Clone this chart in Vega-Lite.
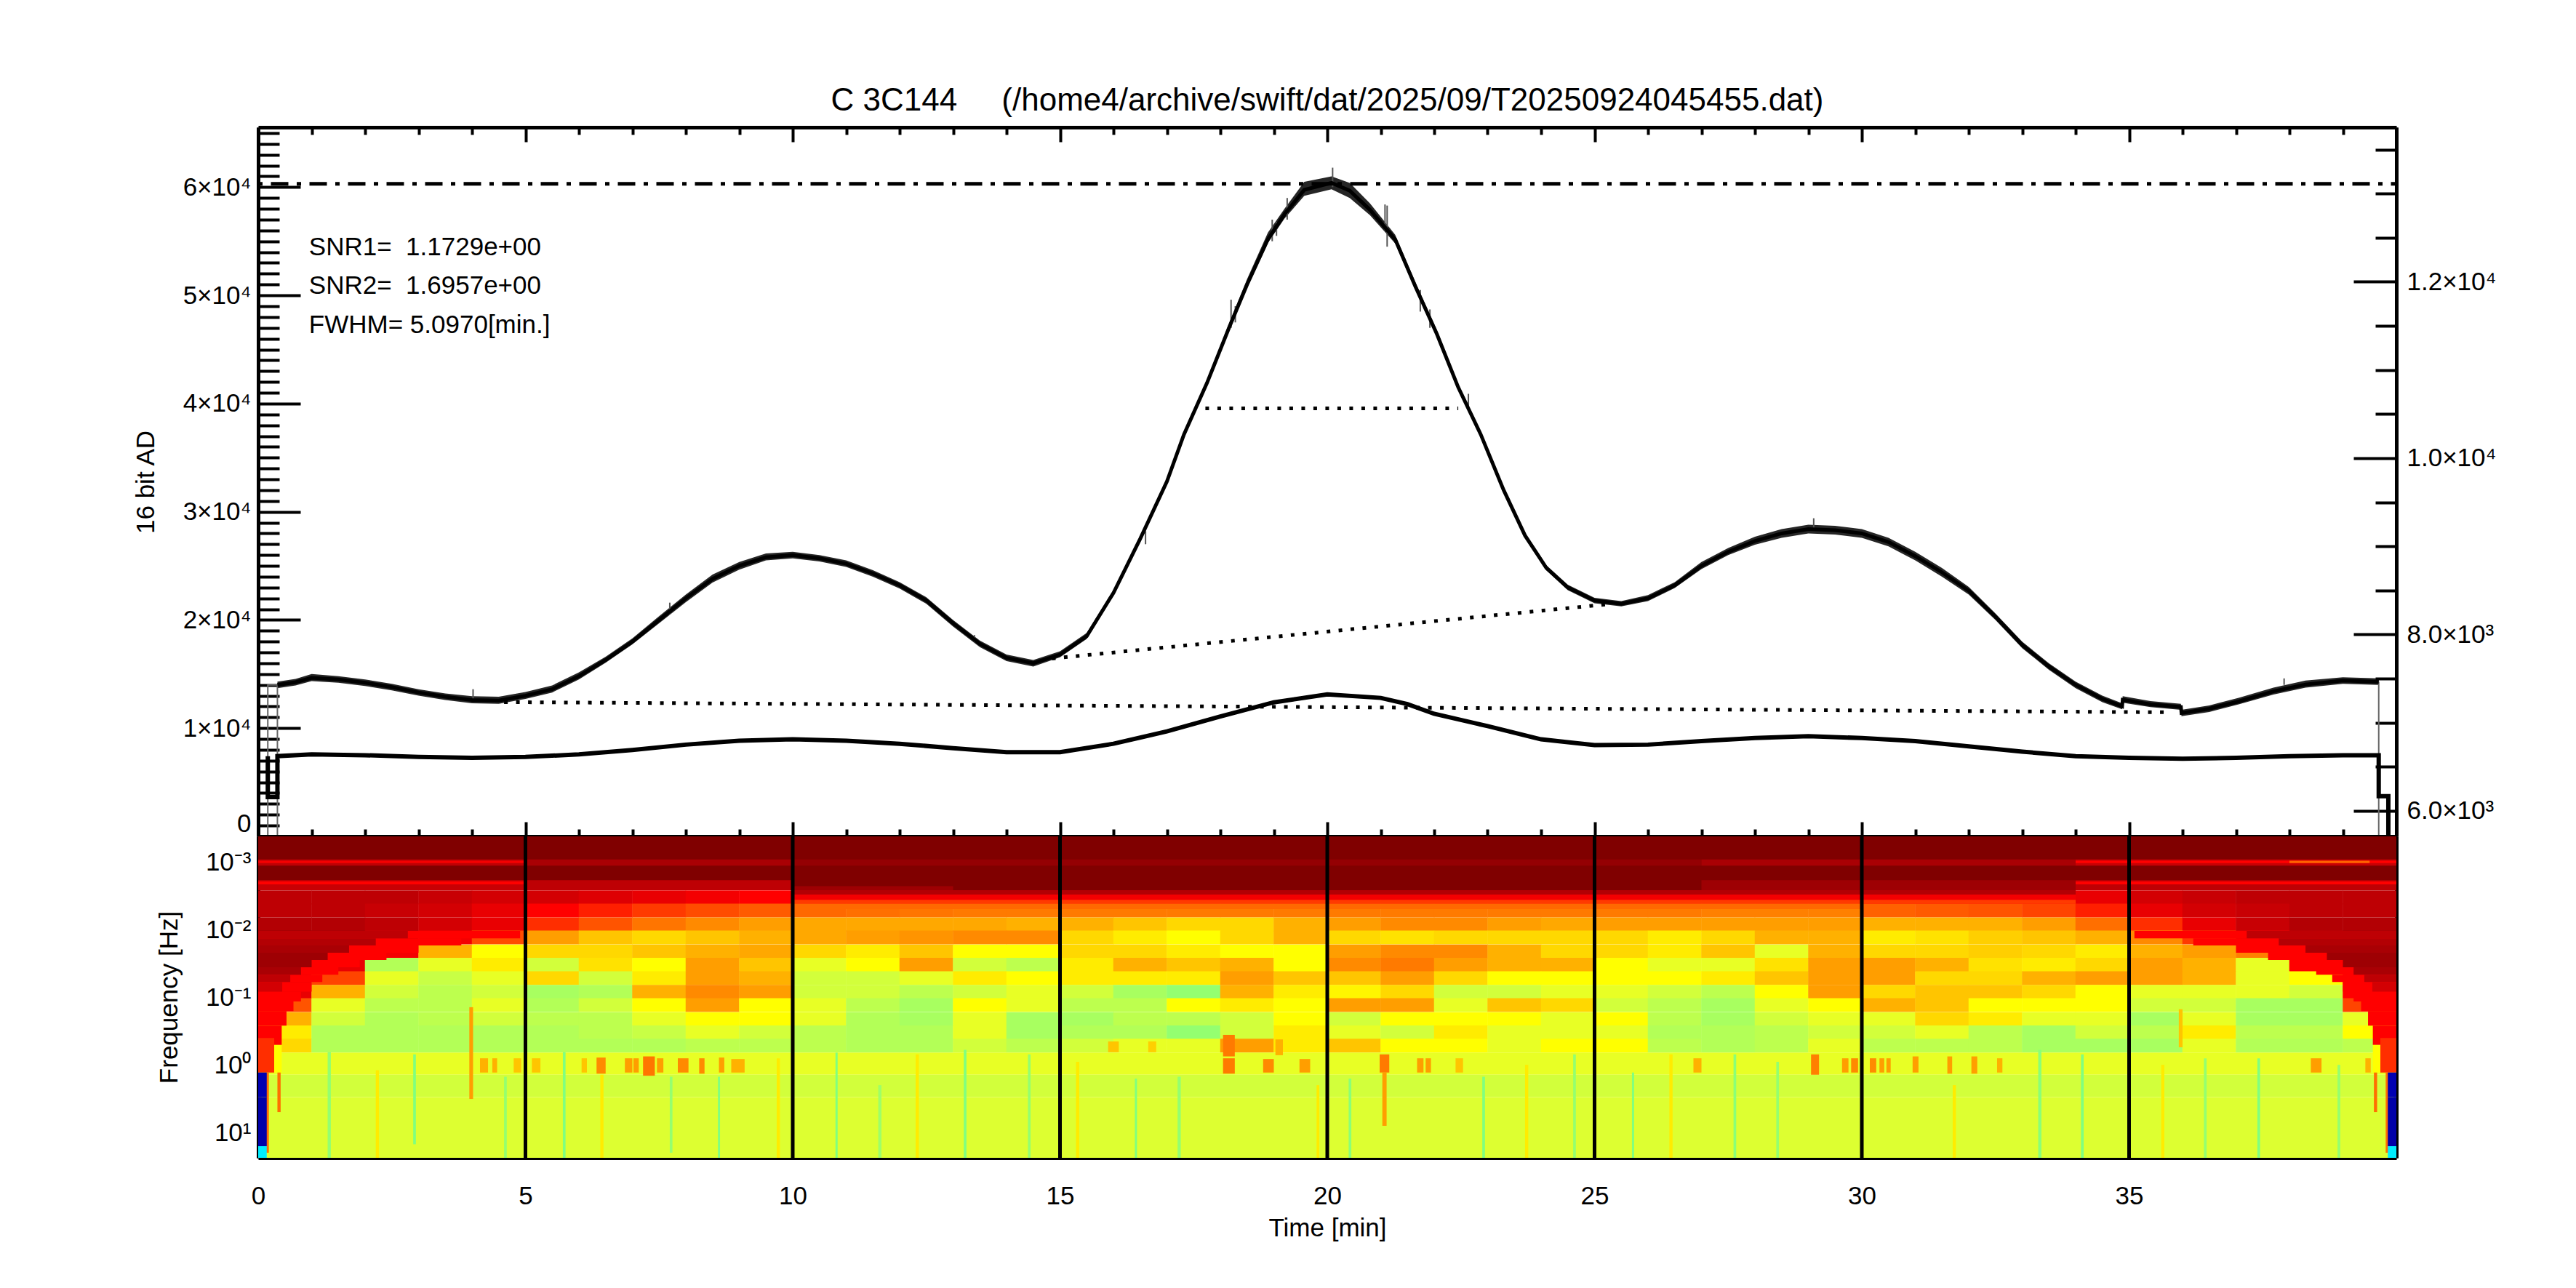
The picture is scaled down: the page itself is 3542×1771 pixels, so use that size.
{"$schema":"https://vega.github.io/schema/vega-lite/v6.json","background":"white","padding":{"left":183,"top":116,"right":20,"bottom":20},"spacing":0,"bounds":"flush","config":{"font":"Liberation Sans","view":{"stroke":null},"axis":{"grid":false,"domainWidth":5,"domainColor":"#000","tickColor":"#000","tickWidth":4,"labelFont":"Liberation Sans","labelFontSize":35,"labelColor":"#000","titleFont":"Liberation Sans","titleFontSize":35,"titleFontWeight":"normal","titleColor":"#000","labelOverlap":false,"labelBound":false,"labelFlush":false,"zindex":1},"title":{"font":"Liberation Sans","fontWeight":"normal","color":"#000"}},"vconcat":[{"width":2940,"height":975,"title":{"text":"C 3C144\u00a0\u00a0\u00a0\u00a0\u00a0(/home4/archive/swift/dat/2025/09/T20250924045455.dat)","fontSize":44,"anchor":"middle","frame":"group","offset":5},"resolve":{"scale":{"y":"independent"},"axis":{"x":"independent","y":"independent"}},"encoding":{"x":{"field":"t","type":"quantitative","scale":{"domain":[0,40],"nice":false},"axis":null}},"layer":[{"data":{"name":"main"},"mark":{"type":"area","color":"#000","opacity":0.85},"encoding":{"y":{"field":"lo","type":"quantitative","scale":{"domain":[0,65535],"nice":false},"axis":null},"y2":{"field":"hi"}}},{"data":{"values":[{"t":4.02,"lo":12500,"hi":13600},{"t":18.2,"lo":47000,"hi":49600},{"t":18.28,"lo":47500,"hi":49000},{"t":18.97,"lo":55000,"hi":57000},{"t":19.05,"lo":55500,"hi":56800},{"t":19.25,"lo":57000,"hi":59000},{"t":20.1,"lo":60000,"hi":61800},{"t":21.08,"lo":56000,"hi":58400},{"t":21.12,"lo":54500,"hi":58300},{"t":21.74,"lo":48500,"hi":50500},{"t":21.92,"lo":47000,"hi":48700},{"t":22.64,"lo":39500,"hi":40900},{"t":29.1,"lo":28500,"hi":29400},{"t":16.6,"lo":27000,"hi":28200},{"t":7.7,"lo":20500,"hi":21600},{"t":13.4,"lo":17900,"hi":18600},{"t":37.9,"lo":14000,"hi":14600}]},"mark":{"type":"rule","color":"#555","strokeWidth":2},"encoding":{"y":{"field":"lo","type":"quantitative","scale":{"domain":[0,65535],"nice":false},"axis":null},"y2":{"field":"hi"}}},{"data":{"values":[{"s":"a","t":0.18,"y":0},{"s":"a","t":0.18,"y":14000},{"s":"a","t":0.36,"y":14000},{"s":"a","t":0.36,"y":0},{"s":"b","t":39.67,"y":14300},{"s":"b","t":39.67,"y":0}]},"mark":{"type":"line","color":"#666","strokeWidth":2},"encoding":{"detail":{"field":"s"},"y":{"field":"y","type":"quantitative","scale":{"domain":[0,65535],"nice":false},"axis":null}}},{"data":{"name":"main"},"mark":{"type":"line","color":"#000","strokeWidth":5},"encoding":{"x":{"field":"t","type":"quantitative","scale":{"domain":[0,40],"nice":false},"axis":{"orient":"top","values":[0,1,2,3,4,5,6,7,8,9,10,11,12,13,14,15,16,17,18,19,20,21,22,23,24,25,26,27,28,29,30,31,32,33,34,35,36,37,38,39,40],"labels":false,"title":null,"tickSize":{"condition":{"test":"datum.value%5==0","value":-20},"value":-10}}},"y":{"field":"y","type":"quantitative","scale":{"domain":[0,65535],"nice":false},"axis":{"orient":"left","title":"16 bit AD","titlePadding":33,"labelPadding":68,"labelBaseline":{"condition":{"test":"datum.value==0","value":"bottom"},"value":"middle"},"values":[0,1000,2000,3000,4000,5000,6000,7000,8000,9000,10000,11000,12000,13000,14000,15000,16000,17000,18000,19000,20000,21000,22000,23000,24000,25000,26000,27000,28000,29000,30000,31000,32000,33000,34000,35000,36000,37000,38000,39000,40000,41000,42000,43000,44000,45000,46000,47000,48000,49000,50000,51000,52000,53000,54000,55000,56000,57000,58000,59000,60000,61000,62000,63000,64000,65000],"labelExpr":"datum.value==0?'0':(datum.value%10000==0?(datum.value/10000)+'×10⁴':'')","tickSize":{"condition":{"test":"datum.value%10000==0","value":-58},"value":-29}}}}},{"data":{"values":[{"t":0.18,"y":6620},{"t":0.18,"y":6155},{"t":0.36,"y":6155},{"t":0.36,"y":6620},{"t":1,"y":6640},{"t":2,"y":6630},{"t":3,"y":6610},{"t":4,"y":6600},{"t":5,"y":6610},{"t":6,"y":6640},{"t":7,"y":6690},{"t":8,"y":6750},{"t":9,"y":6795},{"t":10,"y":6810},{"t":11,"y":6795},{"t":12,"y":6760},{"t":13,"y":6710},{"t":14,"y":6665},{"t":15,"y":6665},{"t":16,"y":6760},{"t":17,"y":6900},{"t":18,"y":7070},{"t":19,"y":7230},{"t":20,"y":7320},{"t":21,"y":7280},{"t":21.5,"y":7210},{"t":22,"y":7100},{"t":23,"y":6960},{"t":24,"y":6810},{"t":25,"y":6745},{"t":26,"y":6750},{"t":27,"y":6790},{"t":28,"y":6825},{"t":29,"y":6845},{"t":30,"y":6825},{"t":31,"y":6790},{"t":32,"y":6730},{"t":33,"y":6670},{"t":34,"y":6620},{"t":35,"y":6600},{"t":36,"y":6590},{"t":37,"y":6600},{"t":38,"y":6620},{"t":39,"y":6630},{"t":39.67,"y":6630},{"t":39.67,"y":6165},{"t":39.85,"y":6165},{"t":39.85,"y":5710}]},"mark":{"type":"line","color":"#000","strokeWidth":6},"encoding":{"order":{"field":"o"},"x":{"field":"t","type":"quantitative","scale":{"domain":[0,40],"nice":false},"axis":{"orient":"bottom","values":[0,1,2,3,4,5,6,7,8,9,10,11,12,13,14,15,16,17,18,19,20,21,22,23,24,25,26,27,28,29,30,31,32,33,34,35,36,37,38,39,40],"labels":false,"title":null,"tickSize":{"condition":{"test":"datum.value%5==0","value":-20},"value":-10}}},"y":{"field":"y","type":"quantitative","scale":{"domain":[5709.5,13753],"nice":false},"axis":{"orient":"right","title":null,"labelPadding":73,"values":[6000,6500,7000,7500,8000,8500,9000,9500,10000,10500,11000,11500,12000,12500,13000,13500],"labelExpr":"datum.value==6000?'6.0×10³':datum.value==8000?'8.0×10³':datum.value==10000?'1.0×10⁴':datum.value==12000?'1.2×10⁴':''","tickSize":{"condition":{"test":"datum.value%2000==0","value":-59},"value":-29}}}}},{"data":{"values":[{"s":"a","t":4.6,"y":12407},{"s":"a","t":35.8,"y":11466},{"s":"b","t":14.85,"y":16440},{"s":"b","t":25.3,"y":21480},{"s":"c","t":17.72,"y":39556},{"s":"c","t":22.45,"y":39556}]},"mark":{"type":"line","color":"#000","strokeWidth":5,"strokeDash":[5,11.5]},"encoding":{"detail":{"field":"s"},"y":{"field":"y","type":"quantitative","scale":{"domain":[0,65535],"nice":false},"axis":null}}},{"data":{"values":[{"t":0,"y":60310},{"t":40,"y":60310}]},"mark":{"type":"line","color":"#000","strokeWidth":5,"strokeDash":[6,11.5,24,11.5]},"encoding":{"y":{"field":"y","type":"quantitative","scale":{"domain":[0,65535],"nice":false},"axis":null}}},{"data":{"values":[{"t":0.95,"y":54440,"s":"SNR1=\u00a0\u00a01.1729e+00"},{"t":0.95,"y":50880,"s":"SNR2=\u00a0\u00a01.6957e+00"},{"t":0.95,"y":47250,"s":"FWHM= 5.0970[min.]"}]},"mark":{"type":"text","align":"left","baseline":"middle","fontSize":35,"color":"#000"},"encoding":{"text":{"field":"s"},"y":{"field":"y","type":"quantitative","scale":{"domain":[0,65535],"nice":false},"axis":null}}}]},{"width":2940,"height":442,"resolve":{"axis":{"x":"independent","y":"independent"}},"encoding":{"x":{"field":"t","type":"quantitative","scale":{"domain":[0,40],"nice":false},"axis":null}},"layer":[{"data":{"name":"grid"},"mark":{"type":"rect","width":74,"height":19,"clip":true},"encoding":{"x":{"field":"t","type":"quantitative","scale":{"domain":[0,40],"nice":false},"axis":{"orient":"top","values":[0,1,2,3,4,5,6,7,8,9,10,11,12,13,14,15,16,17,18,19,20,21,22,23,24,25,26,27,28,29,30,31,32,33,34,35,36,37,38,39,40],"labels":false,"title":null,"tickSize":-7}},"y":{"field":"f","type":"quantitative","scale":{"type":"log","domain":[0.000414,23.8],"nice":false,"reverse":true},"axis":{"orient":"left","title":"Frequency [Hz]","titlePadding":32,"labelPadding":18,"values":[0.0005,0.0006,0.0007,0.0008,0.0009,0.001,0.002,0.003,0.004,0.005,0.006,0.007,0.008,0.009,0.01,0.02,0.03,0.04,0.05,0.06,0.07,0.08,0.09,0.1,0.2,0.3,0.4,0.5,0.6,0.7,0.8,0.9,1,2,3,4,5,6,7,8,9,10,20],"labelExpr":"datum.value==0.001?'10⁻³':datum.value==0.01?'10⁻²':datum.value==0.1?'10⁻¹':datum.value==1?'10⁰':datum.value==10?'10¹':''","tickSize":{"condition":{"test":"datum.value==0.001||datum.value==0.01||datum.value==0.1||datum.value==1||datum.value==10","value":-8},"value":-4}}},"color":{"field":"v","type":"quantitative","scale":{"domain":[0,12,38,50,62,75,88,100],"range":["#00007f","#0000ff","#00ffff","#80ff80","#ffff00","#ff8000","#ff0000","#800000"]},"legend":null}}},{"data":{"name":"bands"},"mark":{"type":"rect","clip":true},"encoding":{"x":{"field":"t","type":"quantitative","scale":{"domain":[0,40],"nice":false},"axis":{"orient":"bottom","title":"Time [min]","titlePadding":9,"labelPadding":42,"values":[0,1,2,3,4,5,6,7,8,9,10,11,12,13,14,15,16,17,18,19,20,21,22,23,24,25,26,27,28,29,30,31,32,33,34,35,36,37,38,39,40],"labelExpr":"datum.value%5==0&&datum.value<40?''+datum.value:''","tickSize":-7}},"x2":{"field":"t2"},"y":{"field":"f","type":"quantitative","scale":{"type":"log","domain":[0.000414,23.8],"nice":false,"reverse":true},"axis":{"orient":"right","title":null,"labels":false,"values":[0.0005,0.0006,0.0007,0.0008,0.0009,0.001,0.002,0.003,0.004,0.005,0.006,0.007,0.008,0.009,0.01,0.02,0.03,0.04,0.05,0.06,0.07,0.08,0.09,0.1,0.2,0.3,0.4,0.5,0.6,0.7,0.8,0.9,1,2,3,4,5,6,7,8,9,10,20],"tickSize":{"condition":{"test":"datum.value==0.001||datum.value==0.01||datum.value==0.1||datum.value==1||datum.value==10","value":-8},"value":-4}}},"y2":{"field":"f2"},"color":{"field":"v","type":"quantitative","scale":{"domain":[0,12,38,50,62,75,88,100],"range":["#00007f","#0000ff","#00ffff","#80ff80","#ffff00","#ff8000","#ff0000","#800000"]},"legend":null}}},{"data":{"values":[{"t":5},{"t":10},{"t":15},{"t":20},{"t":25},{"t":30},{"t":35}]},"mark":{"type":"rule","color":"#000","strokeWidth":5}}]}],"datasets":{"main":[{"t":0.36,"y":14000,"lo":13700,"hi":14300},{"t":0.7,"y":14250,"lo":13950,"hi":14550},{"t":1,"y":14650,"lo":14350,"hi":15000},{"t":1.5,"y":14500,"lo":14200,"hi":14800},{"t":2,"y":14200,"lo":13900,"hi":14500},{"t":2.5,"y":13800,"lo":13500,"hi":14100},{"t":3,"y":13300,"lo":13000,"hi":13600},{"t":3.5,"y":12900,"lo":12600,"hi":13200},{"t":4,"y":12600,"lo":12300,"hi":12950},{"t":4.5,"y":12550,"lo":12250,"hi":12900},{"t":5,"y":13000,"lo":12700,"hi":13350},{"t":5.5,"y":13600,"lo":13300,"hi":13950},{"t":6,"y":14800,"lo":14500,"hi":15150},{"t":6.5,"y":16300,"lo":16050,"hi":16600},{"t":7,"y":18000,"lo":17750,"hi":18300},{"t":7.5,"y":20000,"lo":19700,"hi":20350},{"t":8,"y":22000,"lo":21650,"hi":22350},{"t":8.5,"y":23800,"lo":23450,"hi":24200},{"t":9,"y":25000,"lo":24650,"hi":25350},{"t":9.5,"y":25800,"lo":25500,"hi":26150},{"t":10,"y":26000,"lo":25700,"hi":26300},{"t":10.5,"y":25700,"lo":25400,"hi":26000},{"t":11,"y":25200,"lo":24900,"hi":25500},{"t":11.5,"y":24300,"lo":24000,"hi":24600},{"t":12,"y":23200,"lo":22900,"hi":23500},{"t":12.5,"y":21800,"lo":21500,"hi":22100},{"t":13,"y":19700,"lo":19400,"hi":20000},{"t":13.5,"y":17800,"lo":17500,"hi":18100},{"t":14,"y":16500,"lo":16200,"hi":16800},{"t":14.5,"y":16000,"lo":15700,"hi":16300},{"t":15,"y":16800,"lo":16550,"hi":17100},{"t":15.5,"y":18500,"lo":18250,"hi":18800},{"t":16,"y":22500,"lo":22300,"hi":22750},{"t":16.5,"y":27500,"lo":27300,"hi":27750},{"t":17,"y":32800,"lo":32600,"hi":33050},{"t":17.32,"y":37160,"lo":36950,"hi":37400},{"t":17.75,"y":41900,"lo":41700,"hi":42200},{"t":18.17,"y":47100,"lo":46850,"hi":47500},{"t":18.5,"y":51000,"lo":50700,"hi":51500},{"t":18.89,"y":55180,"lo":54850,"hi":55800},{"t":19.2,"y":57500,"lo":57100,"hi":58000},{"t":19.57,"y":59750,"lo":59200,"hi":60500},{"t":20.08,"y":60400,"lo":59800,"hi":61000},{"t":20.42,"y":59680,"lo":59000,"hi":60400},{"t":20.8,"y":57900,"lo":57400,"hi":58500},{"t":21.27,"y":55180,"lo":54800,"hi":55600},{"t":21.65,"y":50800,"lo":50500,"hi":51200},{"t":22.05,"y":46430,"lo":46200,"hi":46800},{"t":22.45,"y":41500,"lo":41300,"hi":41800},{"t":22.87,"y":37160,"lo":36950,"hi":37400},{"t":23.3,"y":32000,"lo":31800,"hi":32250},{"t":23.7,"y":27800,"lo":27600,"hi":28050},{"t":24.1,"y":24800,"lo":24600,"hi":25050},{"t":24.5,"y":23000,"lo":22750,"hi":23250},{"t":25,"y":21800,"lo":21550,"hi":22050},{"t":25.5,"y":21500,"lo":21250,"hi":21750},{"t":26,"y":22000,"lo":21750,"hi":22300},{"t":26.5,"y":23200,"lo":22950,"hi":23500},{"t":27,"y":25000,"lo":24700,"hi":25350},{"t":27.5,"y":26300,"lo":26000,"hi":26650},{"t":28,"y":27300,"lo":26950,"hi":27700},{"t":28.5,"y":28000,"lo":27600,"hi":28400},{"t":29,"y":28400,"lo":28000,"hi":28800},{"t":29.5,"y":28300,"lo":27900,"hi":28700},{"t":30,"y":28000,"lo":27600,"hi":28400},{"t":30.5,"y":27200,"lo":26800,"hi":27600},{"t":31,"y":25900,"lo":25500,"hi":26300},{"t":31.5,"y":24400,"lo":24000,"hi":24800},{"t":32,"y":22700,"lo":22350,"hi":23050},{"t":32.5,"y":20300,"lo":20000,"hi":20600},{"t":33,"y":17700,"lo":17400,"hi":18000},{"t":33.5,"y":15700,"lo":15400,"hi":16000},{"t":34,"y":14000,"lo":13700,"hi":14300},{"t":34.5,"y":12700,"lo":12400,"hi":13000},{"t":34.87,"y":12020,"lo":11750,"hi":12300},{"t":34.88,"y":12630,"lo":12350,"hi":12950},{"t":35.4,"y":12200,"lo":11950,"hi":12500},{"t":35.97,"y":11960,"lo":11700,"hi":12250},{"t":35.98,"y":11400,"lo":11100,"hi":11700},{"t":36.5,"y":11800,"lo":11500,"hi":12100},{"t":37.05,"y":12470,"lo":12200,"hi":12800},{"t":37.7,"y":13400,"lo":13100,"hi":13750},{"t":38.3,"y":14040,"lo":13750,"hi":14400},{"t":39,"y":14400,"lo":14100,"hi":14700},{"t":39.67,"y":14290,"lo":14000,"hi":14600}],"grid":[{"t":0.5,"f":0.0033,"v":94},{"t":1.5,"f":0.0033,"v":94},{"t":2.5,"f":0.0033,"v":94},{"t":3.5,"f":0.0033,"v":93},{"t":4.5,"f":0.0033,"v":92},{"t":5.5,"f":0.0033,"v":92},{"t":6.5,"f":0.0033,"v":91},{"t":7.5,"f":0.0033,"v":90},{"t":8.5,"f":0.0033,"v":89},{"t":9.5,"f":0.0033,"v":88},{"t":10.5,"f":0.0033,"v":88},{"t":11.5,"f":0.0033,"v":88},{"t":12.5,"f":0.0033,"v":88},{"t":13.5,"f":0.0033,"v":88},{"t":14.5,"f":0.0033,"v":88},{"t":15.5,"f":0.0033,"v":88},{"t":16.5,"f":0.0033,"v":88},{"t":17.5,"f":0.0033,"v":88},{"t":18.5,"f":0.0033,"v":88},{"t":19.5,"f":0.0033,"v":88},{"t":20.5,"f":0.0033,"v":88},{"t":21.5,"f":0.0033,"v":88},{"t":22.5,"f":0.0033,"v":88},{"t":23.5,"f":0.0033,"v":88},{"t":24.5,"f":0.0033,"v":88},{"t":25.5,"f":0.0033,"v":88},{"t":26.5,"f":0.0033,"v":88},{"t":27.5,"f":0.0033,"v":88},{"t":28.5,"f":0.0033,"v":88},{"t":29.5,"f":0.0033,"v":88},{"t":30.5,"f":0.0033,"v":88},{"t":31.5,"f":0.0033,"v":88},{"t":32.5,"f":0.0033,"v":88},{"t":33.5,"f":0.0033,"v":88},{"t":34.5,"f":0.0033,"v":90},{"t":35.5,"f":0.0033,"v":92},{"t":36.5,"f":0.0033,"v":93},{"t":37.5,"f":0.0033,"v":94},{"t":38.5,"f":0.0033,"v":94},{"t":39.5,"f":0.0033,"v":94},{"t":0.5,"f":0.0052,"v":94},{"t":1.5,"f":0.0052,"v":94},{"t":2.5,"f":0.0052,"v":93},{"t":3.5,"f":0.0052,"v":92},{"t":4.5,"f":0.0052,"v":90},{"t":5.5,"f":0.0052,"v":88},{"t":6.5,"f":0.0052,"v":87},{"t":7.5,"f":0.0052,"v":85},{"t":8.5,"f":0.0052,"v":83},{"t":9.5,"f":0.0052,"v":81},{"t":10.5,"f":0.0052,"v":79},{"t":11.5,"f":0.0052,"v":78},{"t":12.5,"f":0.0052,"v":77},{"t":13.5,"f":0.0052,"v":76},{"t":14.5,"f":0.0052,"v":76},{"t":15.5,"f":0.0052,"v":76},{"t":16.5,"f":0.0052,"v":76},{"t":17.5,"f":0.0052,"v":76},{"t":18.5,"f":0.0052,"v":76},{"t":19.5,"f":0.0052,"v":76},{"t":20.5,"f":0.0052,"v":76},{"t":21.5,"f":0.0052,"v":76},{"t":22.5,"f":0.0052,"v":76},{"t":23.5,"f":0.0052,"v":76},{"t":24.5,"f":0.0052,"v":76},{"t":25.5,"f":0.0052,"v":76},{"t":26.5,"f":0.0052,"v":76},{"t":27.5,"f":0.0052,"v":75},{"t":28.5,"f":0.0052,"v":75},{"t":29.5,"f":0.0052,"v":75},{"t":30.5,"f":0.0052,"v":80},{"t":31.5,"f":0.0052,"v":81},{"t":32.5,"f":0.0052,"v":82},{"t":33.5,"f":0.0052,"v":84},{"t":34.5,"f":0.0052,"v":87},{"t":35.5,"f":0.0052,"v":90},{"t":36.5,"f":0.0052,"v":92},{"t":37.5,"f":0.0052,"v":93},{"t":38.5,"f":0.0052,"v":94},{"t":39.5,"f":0.0052,"v":94},{"t":0.5,"f":0.0083,"v":95},{"t":1.5,"f":0.0083,"v":95},{"t":2.5,"f":0.0083,"v":94},{"t":3.5,"f":0.0083,"v":92},{"t":4.5,"f":0.0083,"v":90},{"t":5.5,"f":0.0083,"v":86},{"t":6.5,"f":0.0083,"v":82},{"t":7.5,"f":0.0083,"v":77},{"t":8.5,"f":0.0083,"v":74},{"t":9.5,"f":0.0083,"v":72},{"t":10.5,"f":0.0083,"v":71},{"t":11.5,"f":0.0083,"v":71},{"t":12.5,"f":0.0083,"v":71},{"t":13.5,"f":0.0083,"v":71},{"t":14.5,"f":0.0083,"v":70},{"t":15.5,"f":0.0083,"v":70},{"t":16.5,"f":0.0083,"v":68},{"t":17.5,"f":0.0083,"v":66},{"t":18.5,"f":0.0083,"v":66},{"t":19.5,"f":0.0083,"v":70},{"t":20.5,"f":0.0083,"v":72},{"t":21.5,"f":0.0083,"v":74},{"t":22.5,"f":0.0083,"v":74},{"t":23.5,"f":0.0083,"v":72},{"t":24.5,"f":0.0083,"v":71},{"t":25.5,"f":0.0083,"v":72},{"t":26.5,"f":0.0083,"v":72},{"t":27.5,"f":0.0083,"v":72},{"t":28.5,"f":0.0083,"v":72},{"t":29.5,"f":0.0083,"v":72},{"t":30.5,"f":0.0083,"v":70},{"t":31.5,"f":0.0083,"v":70},{"t":32.5,"f":0.0083,"v":70},{"t":33.5,"f":0.0083,"v":72},{"t":34.5,"f":0.0083,"v":78},{"t":35.5,"f":0.0083,"v":86},{"t":36.5,"f":0.0083,"v":90},{"t":37.5,"f":0.0083,"v":93},{"t":38.5,"f":0.0083,"v":95},{"t":39.5,"f":0.0083,"v":95},{"t":0.5,"f":0.013,"v":97},{"t":1.5,"f":0.013,"v":96},{"t":2.5,"f":0.013,"v":93},{"t":3.5,"f":0.013,"v":89},{"t":4.5,"f":0.013,"v":83},{"t":5.5,"f":0.013,"v":72},{"t":6.5,"f":0.013,"v":68},{"t":7.5,"f":0.013,"v":66},{"t":8.5,"f":0.013,"v":68},{"t":9.5,"f":0.013,"v":70},{"t":10.5,"f":0.013,"v":71},{"t":11.5,"f":0.013,"v":72},{"t":12.5,"f":0.013,"v":73},{"t":13.5,"f":0.013,"v":74},{"t":14.5,"f":0.013,"v":74},{"t":15.5,"f":0.013,"v":66},{"t":16.5,"f":0.013,"v":64},{"t":17.5,"f":0.013,"v":62},{"t":18.5,"f":0.013,"v":66},{"t":19.5,"f":0.013,"v":70},{"t":20.5,"f":0.013,"v":66},{"t":21.5,"f":0.013,"v":65},{"t":22.5,"f":0.013,"v":66},{"t":23.5,"f":0.013,"v":66},{"t":24.5,"f":0.013,"v":66},{"t":25.5,"f":0.013,"v":66},{"t":26.5,"f":0.013,"v":64},{"t":27.5,"f":0.013,"v":66},{"t":28.5,"f":0.013,"v":70},{"t":29.5,"f":0.013,"v":70},{"t":30.5,"f":0.013,"v":64},{"t":31.5,"f":0.013,"v":65},{"t":32.5,"f":0.013,"v":67},{"t":33.5,"f":0.013,"v":68},{"t":34.5,"f":0.013,"v":70},{"t":35.5,"f":0.013,"v":74},{"t":36.5,"f":0.013,"v":85},{"t":37.5,"f":0.013,"v":90},{"t":38.5,"f":0.013,"v":94},{"t":39.5,"f":0.013,"v":96},{"t":0.5,"f":0.021,"v":98},{"t":1.5,"f":0.021,"v":96},{"t":2.5,"f":0.021,"v":89},{"t":3.5,"f":0.021,"v":70},{"t":4.5,"f":0.021,"v":62},{"t":5.5,"f":0.021,"v":66},{"t":6.5,"f":0.021,"v":66},{"t":7.5,"f":0.021,"v":68},{"t":8.5,"f":0.021,"v":70},{"t":9.5,"f":0.021,"v":71},{"t":10.5,"f":0.021,"v":66},{"t":11.5,"f":0.021,"v":64},{"t":12.5,"f":0.021,"v":68},{"t":13.5,"f":0.021,"v":62},{"t":14.5,"f":0.021,"v":62},{"t":15.5,"f":0.021,"v":66},{"t":16.5,"f":0.021,"v":66},{"t":17.5,"f":0.021,"v":64},{"t":18.5,"f":0.021,"v":62},{"t":19.5,"f":0.021,"v":62},{"t":20.5,"f":0.021,"v":72},{"t":21.5,"f":0.021,"v":74},{"t":22.5,"f":0.021,"v":74},{"t":23.5,"f":0.021,"v":70},{"t":24.5,"f":0.021,"v":66},{"t":25.5,"f":0.021,"v":66},{"t":26.5,"f":0.021,"v":64},{"t":27.5,"f":0.021,"v":68},{"t":28.5,"f":0.021,"v":60},{"t":29.5,"f":0.021,"v":70},{"t":30.5,"f":0.021,"v":66},{"t":31.5,"f":0.021,"v":66},{"t":32.5,"f":0.021,"v":67},{"t":33.5,"f":0.021,"v":66},{"t":34.5,"f":0.021,"v":64},{"t":35.5,"f":0.021,"v":70},{"t":36.5,"f":0.021,"v":72},{"t":37.5,"f":0.021,"v":75},{"t":38.5,"f":0.021,"v":90},{"t":39.5,"f":0.021,"v":96},{"t":0.5,"f":0.033,"v":98},{"t":1.5,"f":0.033,"v":90},{"t":2.5,"f":0.033,"v":55},{"t":3.5,"f":0.033,"v":60},{"t":4.5,"f":0.033,"v":64},{"t":5.5,"f":0.033,"v":58},{"t":6.5,"f":0.033,"v":65},{"t":7.5,"f":0.033,"v":62},{"t":8.5,"f":0.033,"v":72},{"t":9.5,"f":0.033,"v":68},{"t":10.5,"f":0.033,"v":60},{"t":11.5,"f":0.033,"v":62},{"t":12.5,"f":0.033,"v":72},{"t":13.5,"f":0.033,"v":58},{"t":14.5,"f":0.033,"v":56},{"t":15.5,"f":0.033,"v":64},{"t":16.5,"f":0.033,"v":70},{"t":17.5,"f":0.033,"v":68},{"t":18.5,"f":0.033,"v":70},{"t":19.5,"f":0.033,"v":62},{"t":20.5,"f":0.033,"v":74},{"t":21.5,"f":0.033,"v":76},{"t":22.5,"f":0.033,"v":72},{"t":23.5,"f":0.033,"v":70},{"t":24.5,"f":0.033,"v":70},{"t":25.5,"f":0.033,"v":62},{"t":26.5,"f":0.033,"v":60},{"t":27.5,"f":0.033,"v":60},{"t":28.5,"f":0.033,"v":65},{"t":29.5,"f":0.033,"v":72},{"t":30.5,"f":0.033,"v":72},{"t":31.5,"f":0.033,"v":70},{"t":32.5,"f":0.033,"v":65},{"t":33.5,"f":0.033,"v":64},{"t":34.5,"f":0.033,"v":66},{"t":35.5,"f":0.033,"v":72},{"t":36.5,"f":0.033,"v":70},{"t":37.5,"f":0.033,"v":60},{"t":38.5,"f":0.033,"v":88},{"t":39.5,"f":0.033,"v":96},{"t":0.5,"f":0.052,"v":92},{"t":1.5,"f":0.052,"v":84},{"t":2.5,"f":0.052,"v":60},{"t":3.5,"f":0.052,"v":57},{"t":4.5,"f":0.052,"v":60},{"t":5.5,"f":0.052,"v":66},{"t":6.5,"f":0.052,"v":58},{"t":7.5,"f":0.052,"v":64},{"t":8.5,"f":0.052,"v":72},{"t":9.5,"f":0.052,"v":70},{"t":10.5,"f":0.052,"v":58},{"t":11.5,"f":0.052,"v":58},{"t":12.5,"f":0.052,"v":60},{"t":13.5,"f":0.052,"v":64},{"t":14.5,"f":0.052,"v":62},{"t":15.5,"f":0.052,"v":64},{"t":16.5,"f":0.052,"v":64},{"t":17.5,"f":0.052,"v":64},{"t":18.5,"f":0.052,"v":72},{"t":19.5,"f":0.052,"v":68},{"t":20.5,"f":0.052,"v":68},{"t":21.5,"f":0.052,"v":72},{"t":22.5,"f":0.052,"v":66},{"t":23.5,"f":0.052,"v":62},{"t":24.5,"f":0.052,"v":62},{"t":25.5,"f":0.052,"v":62},{"t":26.5,"f":0.052,"v":62},{"t":27.5,"f":0.052,"v":64},{"t":28.5,"f":0.052,"v":68},{"t":29.5,"f":0.052,"v":72},{"t":30.5,"f":0.052,"v":72},{"t":31.5,"f":0.052,"v":66},{"t":32.5,"f":0.052,"v":66},{"t":33.5,"f":0.052,"v":70},{"t":34.5,"f":0.052,"v":72},{"t":35.5,"f":0.052,"v":72},{"t":36.5,"f":0.052,"v":70},{"t":37.5,"f":0.052,"v":60},{"t":38.5,"f":0.052,"v":62},{"t":39.5,"f":0.052,"v":88},{"t":0.5,"f":0.083,"v":90},{"t":1.5,"f":0.083,"v":70},{"t":2.5,"f":0.083,"v":58},{"t":3.5,"f":0.083,"v":56},{"t":4.5,"f":0.083,"v":58},{"t":5.5,"f":0.083,"v":54},{"t":6.5,"f":0.083,"v":55},{"t":7.5,"f":0.083,"v":70},{"t":8.5,"f":0.083,"v":74},{"t":9.5,"f":0.083,"v":72},{"t":10.5,"f":0.083,"v":58},{"t":11.5,"f":0.083,"v":58},{"t":12.5,"f":0.083,"v":56},{"t":13.5,"f":0.083,"v":58},{"t":14.5,"f":0.083,"v":60},{"t":15.5,"f":0.083,"v":58},{"t":16.5,"f":0.083,"v":54},{"t":17.5,"f":0.083,"v":52},{"t":18.5,"f":0.083,"v":70},{"t":19.5,"f":0.083,"v":64},{"t":20.5,"f":0.083,"v":63},{"t":21.5,"f":0.083,"v":66},{"t":22.5,"f":0.083,"v":58},{"t":23.5,"f":0.083,"v":58},{"t":24.5,"f":0.083,"v":60},{"t":25.5,"f":0.083,"v":60},{"t":26.5,"f":0.083,"v":58},{"t":27.5,"f":0.083,"v":56},{"t":28.5,"f":0.083,"v":62},{"t":29.5,"f":0.083,"v":72},{"t":30.5,"f":0.083,"v":66},{"t":31.5,"f":0.083,"v":68},{"t":32.5,"f":0.083,"v":68},{"t":33.5,"f":0.083,"v":66},{"t":34.5,"f":0.083,"v":62},{"t":35.5,"f":0.083,"v":60},{"t":36.5,"f":0.083,"v":60},{"t":37.5,"f":0.083,"v":60},{"t":38.5,"f":0.083,"v":58},{"t":39.5,"f":0.083,"v":88},{"t":0.5,"f":0.13,"v":82},{"t":1.5,"f":0.13,"v":60},{"t":2.5,"f":0.13,"v":56},{"t":3.5,"f":0.13,"v":56},{"t":4.5,"f":0.13,"v":60},{"t":5.5,"f":0.13,"v":55},{"t":6.5,"f":0.13,"v":58},{"t":7.5,"f":0.13,"v":62},{"t":8.5,"f":0.13,"v":72},{"t":9.5,"f":0.13,"v":62},{"t":10.5,"f":0.13,"v":60},{"t":11.5,"f":0.13,"v":56},{"t":12.5,"f":0.13,"v":54},{"t":13.5,"f":0.13,"v":62},{"t":14.5,"f":0.13,"v":60},{"t":15.5,"f":0.13,"v":56},{"t":16.5,"f":0.13,"v":56},{"t":17.5,"f":0.13,"v":62},{"t":18.5,"f":0.13,"v":64},{"t":19.5,"f":0.13,"v":62},{"t":20.5,"f":0.13,"v":72},{"t":21.5,"f":0.13,"v":72},{"t":22.5,"f":0.13,"v":60},{"t":23.5,"f":0.13,"v":68},{"t":24.5,"f":0.13,"v":66},{"t":25.5,"f":0.13,"v":58},{"t":26.5,"f":0.13,"v":56},{"t":27.5,"f":0.13,"v":54},{"t":28.5,"f":0.13,"v":60},{"t":29.5,"f":0.13,"v":62},{"t":30.5,"f":0.13,"v":70},{"t":31.5,"f":0.13,"v":68},{"t":32.5,"f":0.13,"v":62},{"t":33.5,"f":0.13,"v":62},{"t":34.5,"f":0.13,"v":62},{"t":35.5,"f":0.13,"v":58},{"t":36.5,"f":0.13,"v":58},{"t":37.5,"f":0.13,"v":54},{"t":38.5,"f":0.13,"v":54},{"t":39.5,"f":0.13,"v":84},{"t":0.5,"f":0.21,"v":70},{"t":1.5,"f":0.21,"v":58},{"t":2.5,"f":0.21,"v":55},{"t":3.5,"f":0.21,"v":56},{"t":4.5,"f":0.21,"v":58},{"t":5.5,"f":0.21,"v":56},{"t":6.5,"f":0.21,"v":56},{"t":7.5,"f":0.21,"v":60},{"t":8.5,"f":0.21,"v":62},{"t":9.5,"f":0.21,"v":62},{"t":10.5,"f":0.21,"v":60},{"t":11.5,"f":0.21,"v":55},{"t":12.5,"f":0.21,"v":54},{"t":13.5,"f":0.21,"v":60},{"t":14.5,"f":0.21,"v":54},{"t":15.5,"f":0.21,"v":54},{"t":16.5,"f":0.21,"v":56},{"t":17.5,"f":0.21,"v":56},{"t":18.5,"f":0.21,"v":58},{"t":19.5,"f":0.21,"v":62},{"t":20.5,"f":0.21,"v":58},{"t":21.5,"f":0.21,"v":62},{"t":22.5,"f":0.21,"v":62},{"t":23.5,"f":0.21,"v":62},{"t":24.5,"f":0.21,"v":60},{"t":25.5,"f":0.21,"v":62},{"t":26.5,"f":0.21,"v":56},{"t":27.5,"f":0.21,"v":54},{"t":28.5,"f":0.21,"v":58},{"t":29.5,"f":0.21,"v":60},{"t":30.5,"f":0.21,"v":60},{"t":31.5,"f":0.21,"v":66},{"t":32.5,"f":0.21,"v":64},{"t":33.5,"f":0.21,"v":60},{"t":34.5,"f":0.21,"v":60},{"t":35.5,"f":0.21,"v":54},{"t":36.5,"f":0.21,"v":60},{"t":37.5,"f":0.21,"v":54},{"t":38.5,"f":0.21,"v":54},{"t":39.5,"f":0.21,"v":60},{"t":0.5,"f":0.33,"v":64},{"t":1.5,"f":0.33,"v":55},{"t":2.5,"f":0.33,"v":55},{"t":3.5,"f":0.33,"v":55},{"t":4.5,"f":0.33,"v":55},{"t":5.5,"f":0.33,"v":55},{"t":6.5,"f":0.33,"v":56},{"t":7.5,"f":0.33,"v":57},{"t":8.5,"f":0.33,"v":60},{"t":9.5,"f":0.33,"v":58},{"t":10.5,"f":0.33,"v":56},{"t":11.5,"f":0.33,"v":55},{"t":12.5,"f":0.33,"v":55},{"t":13.5,"f":0.33,"v":60},{"t":14.5,"f":0.33,"v":54},{"t":15.5,"f":0.33,"v":55},{"t":16.5,"f":0.33,"v":55},{"t":17.5,"f":0.33,"v":52},{"t":18.5,"f":0.33,"v":58},{"t":19.5,"f":0.33,"v":64},{"t":20.5,"f":0.33,"v":60},{"t":21.5,"f":0.33,"v":58},{"t":22.5,"f":0.33,"v":64},{"t":23.5,"f":0.33,"v":60},{"t":24.5,"f":0.33,"v":60},{"t":25.5,"f":0.33,"v":60},{"t":26.5,"f":0.33,"v":55},{"t":27.5,"f":0.33,"v":55},{"t":28.5,"f":0.33,"v":56},{"t":29.5,"f":0.33,"v":58},{"t":30.5,"f":0.33,"v":58},{"t":31.5,"f":0.33,"v":60},{"t":32.5,"f":0.33,"v":56},{"t":33.5,"f":0.33,"v":54},{"t":34.5,"f":0.33,"v":58},{"t":35.5,"f":0.33,"v":56},{"t":36.5,"f":0.33,"v":64},{"t":37.5,"f":0.33,"v":56},{"t":38.5,"f":0.33,"v":56},{"t":39.5,"f":0.33,"v":62},{"t":0.5,"f":0.52,"v":66},{"t":1.5,"f":0.52,"v":55},{"t":2.5,"f":0.52,"v":55},{"t":3.5,"f":0.52,"v":55},{"t":4.5,"f":0.52,"v":55},{"t":5.5,"f":0.52,"v":55},{"t":6.5,"f":0.52,"v":55},{"t":7.5,"f":0.52,"v":55},{"t":8.5,"f":0.52,"v":56},{"t":9.5,"f":0.52,"v":56},{"t":10.5,"f":0.52,"v":56},{"t":11.5,"f":0.52,"v":55},{"t":12.5,"f":0.52,"v":55},{"t":13.5,"f":0.52,"v":58},{"t":14.5,"f":0.52,"v":56},{"t":15.5,"f":0.52,"v":58},{"t":16.5,"f":0.52,"v":60},{"t":17.5,"f":0.52,"v":60},{"t":18.5,"f":0.52,"v":72},{"t":19.5,"f":0.52,"v":64},{"t":20.5,"f":0.52,"v":68},{"t":21.5,"f":0.52,"v":62},{"t":22.5,"f":0.52,"v":62},{"t":23.5,"f":0.52,"v":60},{"t":24.5,"f":0.52,"v":62},{"t":25.5,"f":0.52,"v":62},{"t":26.5,"f":0.52,"v":56},{"t":27.5,"f":0.52,"v":55},{"t":28.5,"f":0.52,"v":56},{"t":29.5,"f":0.52,"v":60},{"t":30.5,"f":0.52,"v":56},{"t":31.5,"f":0.52,"v":56},{"t":32.5,"f":0.52,"v":56},{"t":33.5,"f":0.52,"v":54},{"t":34.5,"f":0.52,"v":54},{"t":35.5,"f":0.52,"v":54},{"t":36.5,"f":0.52,"v":60},{"t":37.5,"f":0.52,"v":55},{"t":38.5,"f":0.52,"v":55},{"t":39.5,"f":0.52,"v":56}],"bands":[{"t":0,"t2":40,"f":0.000414,"f2":0.0026,"v":100},{"t":0,"t2":5,"f":0.00091,"f2":0.00112,"v":94},{"t":0,"t2":5,"f":0.00095,"f2":0.00103,"v":89},{"t":5,"t2":10,"f":0.00091,"f2":0.00112,"v":96},{"t":10,"t2":27,"f":0.00091,"f2":0.00112,"v":98},{"t":27,"t2":34,"f":0.00091,"f2":0.00112,"v":96},{"t":34,"t2":40,"f":0.00091,"f2":0.00112,"v":93},{"t":34,"t2":40,"f":0.00095,"f2":0.00103,"v":88},{"t":38,"t2":39.5,"f":0.00095,"f2":0.00103,"v":80},{"t":0,"t2":5,"f":0.00184,"f2":0.0026,"v":93},{"t":0,"t2":5,"f":0.00193,"f2":0.00213,"v":88},{"t":5,"t2":10,"f":0.00184,"f2":0.0026,"v":94},{"t":10,"t2":13,"f":0.00226,"f2":0.0026,"v":97},{"t":27,"t2":34,"f":0.00184,"f2":0.0026,"v":97},{"t":34,"t2":40,"f":0.00184,"f2":0.0026,"v":94},{"t":34,"t2":40,"f":0.00193,"f2":0.00213,"v":88},{"t":10,"t2":34,"f":0.0026,"f2":0.003,"v":95},{"t":10,"t2":34,"f":0.003,"f2":0.0036,"v":89},{"t":10,"t2":34,"f":0.0036,"f2":0.00413,"v":85},{"t":10,"t2":30,"f":0.00413,"f2":0.00495,"v":79},{"t":0,"t2":40,"f":0.656,"f2":1.4,"v":60},{"t":0,"t2":40,"f":1.4,"f2":3,"v":58},{"t":0,"t2":40,"f":3,"f2":23.8,"v":59},{"t":1.3,"t2":1.36,"f":0.65,"f2":23.8,"v":52},{"t":2.2,"t2":2.26,"f":1.2,"f2":23.8,"v":64},{"t":2.9,"t2":2.95,"f":0.7,"f2":15,"v":50},{"t":4.6,"t2":4.65,"f":1.5,"f2":23.8,"v":52},{"t":5.7,"t2":5.75,"f":0.65,"f2":23.8,"v":50},{"t":6.4,"t2":6.46,"f":1.4,"f2":23.8,"v":64},{"t":7.7,"t2":7.75,"f":1.5,"f2":20,"v":52},{"t":8.6,"t2":8.64,"f":1.5,"f2":23.8,"v":50},{"t":9.7,"t2":9.76,"f":0.8,"f2":23.8,"v":64},{"t":10.8,"t2":10.84,"f":0.66,"f2":23.8,"v":50},{"t":11.6,"t2":11.66,"f":2,"f2":23.8,"v":53},{"t":12.3,"t2":12.36,"f":0.7,"f2":23.8,"v":64},{"t":13.2,"t2":13.25,"f":0.6,"f2":23.8,"v":50},{"t":14.4,"t2":14.45,"f":0.7,"f2":23.8,"v":52},{"t":15.3,"t2":15.36,"f":0.9,"f2":23.8,"v":64},{"t":16.4,"t2":16.44,"f":1.6,"f2":23.8,"v":50},{"t":17.2,"t2":17.26,"f":1.5,"f2":23.8,"v":52},{"t":19.8,"t2":19.85,"f":2,"f2":23.8,"v":64},{"t":20.4,"t2":20.45,"f":1.6,"f2":23.8,"v":51},{"t":22.9,"t2":22.95,"f":1.5,"f2":23.8,"v":50},{"t":23.7,"t2":23.76,"f":1,"f2":23.8,"v":64},{"t":24.6,"t2":24.65,"f":0.7,"f2":23.8,"v":52},{"t":25.7,"t2":25.74,"f":1.3,"f2":23.8,"v":50},{"t":26.4,"t2":26.46,"f":0.7,"f2":23.8,"v":64},{"t":27.6,"t2":27.65,"f":0.7,"f2":23.8,"v":51},{"t":28.4,"t2":28.45,"f":0.9,"f2":23.8,"v":52},{"t":31.7,"t2":31.76,"f":2,"f2":23.8,"v":64},{"t":33.3,"t2":33.36,"f":0.6,"f2":23.8,"v":51},{"t":34.1,"t2":34.15,"f":0.7,"f2":23.8,"v":50},{"t":35.6,"t2":35.66,"f":1,"f2":23.8,"v":64},{"t":36.4,"t2":36.45,"f":0.8,"f2":23.8,"v":52},{"t":37.4,"t2":37.45,"f":0.8,"f2":23.8,"v":50},{"t":38.9,"t2":38.95,"f":1,"f2":23.8,"v":52},{"t":3.95,"t2":4.02,"f":0.14,"f2":3.2,"v":72},{"t":4.15,"t2":4.3,"f":0.8,"f2":1.3,"v":70},{"t":4.38,"t2":4.47,"f":0.8,"f2":1.3,"v":70},{"t":4.78,"t2":4.92,"f":0.8,"f2":1.3,"v":68},{"t":5.12,"t2":5.28,"f":0.8,"f2":1.3,"v":68},{"t":6.05,"t2":6.15,"f":0.8,"f2":1.3,"v":68},{"t":6.33,"t2":6.5,"f":0.78,"f2":1.35,"v":74},{"t":6.86,"t2":7.0,"f":0.8,"f2":1.3,"v":72},{"t":7.02,"t2":7.12,"f":0.8,"f2":1.3,"v":72},{"t":7.2,"t2":7.42,"f":0.75,"f2":1.45,"v":77},{"t":7.46,"t2":7.58,"f":0.8,"f2":1.3,"v":72},{"t":7.85,"t2":8.05,"f":0.8,"f2":1.3,"v":74},{"t":8.25,"t2":8.35,"f":0.8,"f2":1.35,"v":74},{"t":8.62,"t2":8.72,"f":0.78,"f2":1.3,"v":72},{"t":8.85,"t2":9.1,"f":0.82,"f2":1.3,"v":70},{"t":18.05,"t2":18.27,"f":0.36,"f2":0.75,"v":76},{"t":18.05,"t2":18.27,"f":0.8,"f2":1.35,"v":76},{"t":18.8,"t2":19,"f":0.82,"f2":1.3,"v":74},{"t":19.03,"t2":19.17,"f":0.42,"f2":0.72,"v":70},{"t":19.48,"t2":19.68,"f":0.82,"f2":1.3,"v":72},{"t":15.9,"t2":16.1,"f":0.45,"f2":0.65,"v":68},{"t":16.65,"t2":16.8,"f":0.45,"f2":0.65,"v":67},{"t":20.98,"t2":21.16,"f":0.7,"f2":1.3,"v":76},{"t":21.03,"t2":21.11,"f":1.3,"f2":8,"v":72},{"t":21.68,"t2":21.8,"f":0.8,"f2":1.3,"v":72},{"t":21.84,"t2":21.94,"f":0.8,"f2":1.3,"v":72},{"t":22.4,"t2":22.54,"f":0.8,"f2":1.3,"v":68},{"t":26.85,"t2":27,"f":0.8,"f2":1.3,"v":70},{"t":29.05,"t2":29.2,"f":0.7,"f2":1.4,"v":75},{"t":29.63,"t2":29.75,"f":0.8,"f2":1.3,"v":72},{"t":29.8,"t2":29.93,"f":0.8,"f2":1.3,"v":74},{"t":30.15,"t2":30.27,"f":0.8,"f2":1.3,"v":74},{"t":30.33,"t2":30.42,"f":0.8,"f2":1.3,"v":72},{"t":30.46,"t2":30.54,"f":0.8,"f2":1.3,"v":72},{"t":30.95,"t2":31.06,"f":0.75,"f2":1.3,"v":72},{"t":31.6,"t2":31.69,"f":0.75,"f2":1.35,"v":72},{"t":32.05,"t2":32.16,"f":0.75,"f2":1.35,"v":72},{"t":32.53,"t2":32.63,"f":0.8,"f2":1.3,"v":70},{"t":38.4,"t2":38.6,"f":0.8,"f2":1.3,"v":72},{"t":39.42,"t2":39.52,"f":0.8,"f2":1.3,"v":70},{"t":35.93,"t2":36,"f":0.15,"f2":0.55,"v":68},{"t":0,"t2":4.9,"f":0.0104,"f2":0.0134,"v":88},{"t":0,"t2":3.8,"f":0.0134,"f2":0.0171,"v":88},{"t":0,"t2":3,"f":0.0171,"f2":0.0219,"v":88},{"t":0,"t2":2.4,"f":0.0219,"f2":0.0281,"v":88},{"t":0,"t2":1.9,"f":0.0281,"f2":0.036,"v":88},{"t":0,"t2":1.5,"f":0.036,"f2":0.0462,"v":88},{"t":0,"t2":1.2,"f":0.0462,"f2":0.0592,"v":88},{"t":0,"t2":1,"f":0.0592,"f2":0.0824,"v":88},{"t":0,"t2":0.8,"f":0.0824,"f2":0.115,"v":88},{"t":0,"t2":0.66,"f":0.115,"f2":0.16,"v":88},{"t":0,"t2":0.53,"f":0.16,"f2":0.262,"v":88},{"t":0,"t2":0.44,"f":0.262,"f2":0.508,"v":88},{"t":0,"t2":2.8,"f":0.0104,"f2":0.0134,"v":94},{"t":0,"t2":2.2,"f":0.0134,"f2":0.0171,"v":95},{"t":0,"t2":1.7,"f":0.0171,"f2":0.0219,"v":96},{"t":0,"t2":1.3,"f":0.0219,"f2":0.0281,"v":97},{"t":0,"t2":1,"f":0.0281,"f2":0.036,"v":97},{"t":0,"t2":0.8,"f":0.036,"f2":0.0462,"v":96},{"t":0,"t2":0.6,"f":0.0462,"f2":0.0592,"v":94},{"t":0,"t2":0.45,"f":0.0592,"f2":0.0824,"v":92},{"t":35.1,"t2":40,"f":0.0104,"f2":0.0134,"v":88},{"t":36.2,"t2":40,"f":0.0134,"f2":0.0171,"v":88},{"t":37,"t2":40,"f":0.0171,"f2":0.0219,"v":88},{"t":37.6,"t2":40,"f":0.0219,"f2":0.0281,"v":88},{"t":38.1,"t2":40,"f":0.0281,"f2":0.036,"v":88},{"t":38.5,"t2":40,"f":0.036,"f2":0.0462,"v":88},{"t":38.8,"t2":40,"f":0.0462,"f2":0.0592,"v":88},{"t":39,"t2":40,"f":0.0592,"f2":0.0824,"v":88},{"t":39.2,"t2":40,"f":0.0824,"f2":0.115,"v":88},{"t":39.34,"t2":40,"f":0.115,"f2":0.16,"v":88},{"t":39.47,"t2":40,"f":0.16,"f2":0.262,"v":88},{"t":39.56,"t2":40,"f":0.262,"f2":0.508,"v":88},{"t":37.2,"t2":40,"f":0.0104,"f2":0.0134,"v":94},{"t":37.8,"t2":40,"f":0.0134,"f2":0.0171,"v":95},{"t":38.3,"t2":40,"f":0.0171,"f2":0.0219,"v":96},{"t":38.7,"t2":40,"f":0.0219,"f2":0.0281,"v":97},{"t":39,"t2":40,"f":0.0281,"f2":0.036,"v":97},{"t":39.2,"t2":40,"f":0.036,"f2":0.0462,"v":96},{"t":39.4,"t2":40,"f":0.0462,"f2":0.0592,"v":94},{"t":39.55,"t2":40,"f":0.0592,"f2":0.0824,"v":92},{"t":0,"t2":0.3,"f":0.4,"f2":1.3,"v":86},{"t":0.3,"t2":0.44,"f":0.508,"f2":1.3,"v":62},{"t":0.36,"t2":0.42,"f":1.3,"f2":5,"v":78},{"t":0.15,"t2":0.2,"f":1.3,"f2":20,"v":78},{"t":0,"t2":0.16,"f":1.3,"f2":3,"v":5},{"t":0,"t2":0.16,"f":3,"f2":16,"v":4},{"t":0,"t2":0.16,"f":16,"f2":23.8,"v":35},{"t":39.7,"t2":40,"f":0.4,"f2":1.3,"v":86},{"t":39.56,"t2":39.7,"f":0.508,"f2":1.3,"v":62},{"t":39.58,"t2":39.64,"f":1.3,"f2":5,"v":78},{"t":39.8,"t2":39.85,"f":1.3,"f2":20,"v":78},{"t":39.84,"t2":40,"f":1.3,"f2":3,"v":5},{"t":39.84,"t2":40,"f":3,"f2":16,"v":4},{"t":39.84,"t2":40,"f":16,"f2":23.8,"v":35}]}}
